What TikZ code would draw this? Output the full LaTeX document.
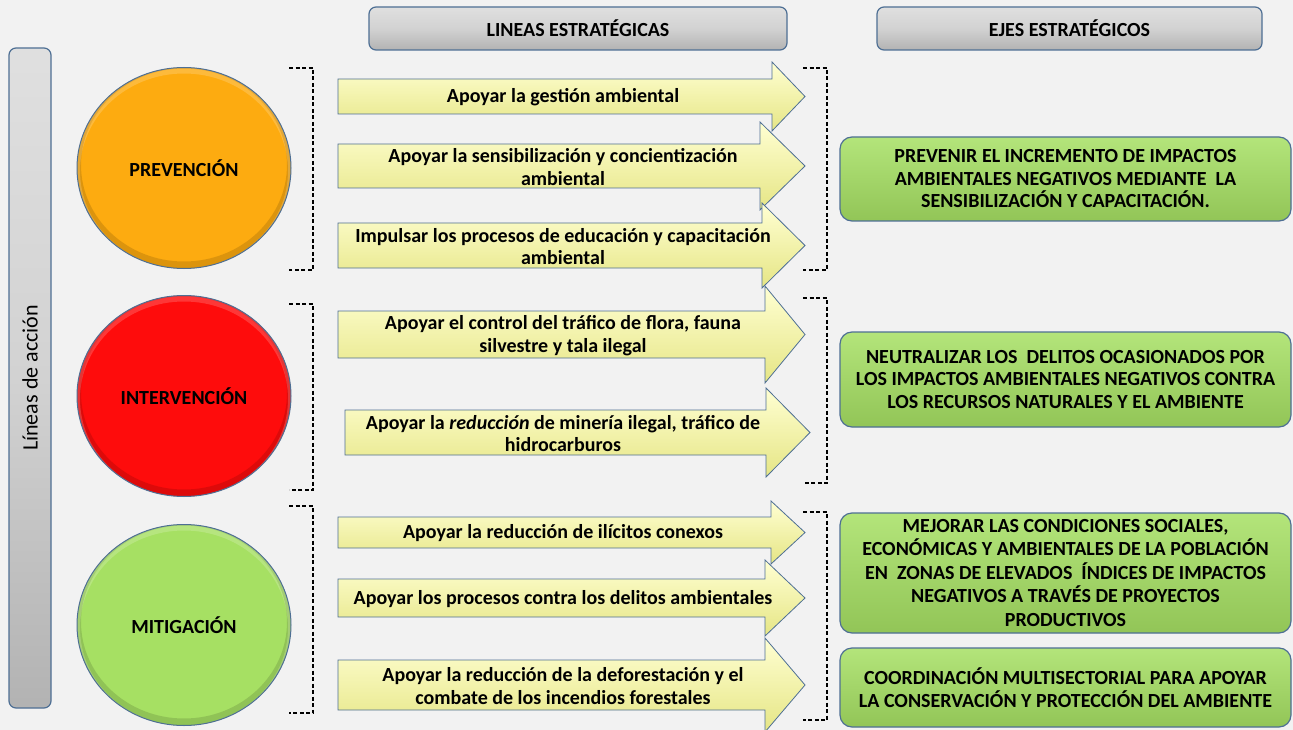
\documentclass[tikz,border=0pt]{standalone}
\usepackage{fontspec}
\setmainfont{Carlito}
\usetikzlibrary{positioning, shapes.geometric}
\definecolor{fondo}{HTML}{F2F2F2}
\definecolor{borde}{HTML}{4E6F94}
\definecolor{naranja}{HTML}{FDAB10}
\definecolor{rojo}{HTML}{FE0C0C}
\definecolor{verde}{HTML}{A6E063}
\definecolor{amarillo}{HTML}{FFFFA6}
\definecolor{gris}{HTML}{D2D2D2}
\tikzset{
  txt/.style={font=\bfseries\fontsize{20}{22.5}\selectfont, align=center, text=black},
  circulo/.style={ellipse, draw=borde, line width=1pt, minimum width=214pt, minimum height=201pt, inner sep=0pt, txt,
    path picture={
      \draw[line width=8pt, black, opacity=.13] ([yshift=3pt]path picture bounding box.center) ellipse [x radius=107pt, y radius=100.5pt];
      \draw[line width=6pt, white, opacity=.18] ([yshift=-3pt]path picture bounding box.center) ellipse [x radius=107pt, y radius=100.5pt];}},
  eje/.style={rectangle, rounded corners=12pt, draw=borde, line width=1.2pt, top color=verde!85!white, middle color=verde, bottom color=verde!88!black, minimum width=451pt, inner sep=0pt, txt},
  encabezado/.style={rectangle, rounded corners=7pt, draw=borde, line width=1.2pt, top color=gris!70!white, bottom color=gris!85!black, middle color=gris, minimum height=43pt, inner sep=0pt, font=\bfseries\fontsize{20}{22}\selectfont},
  llave/.style={line width=1.3pt, dash pattern=on 4pt off 2.5pt},
  flecha/.style={draw=borde, line width=0.8pt, top color=amarillo!50!white, middle color=amarillo, bottom color=amarillo!80!olive}
}
% #1 nombre, #2 cola, #3 base de punta, #4 punta, #5 arriba, #6 abajo, #7 ala, #8 texto
\newcommand{\linea}[8]{%
  \draw[flecha] (#2,#5) -- (#3,#5) -- (#3,#5-#7) -- (#4,{(#5+#6)/2}) -- (#3,#6+#7) -- (#3,#6) -- (#2,#6) -- cycle;
  \node[txt] (#1) at (563,{(#5+#6)/2+1}) {#8};
}

\begin{document}
\begin{tikzpicture}[x=1pt, y=-1pt]
  \useasboundingbox[fill=fondo] (0,0) rectangle (1293,730);

  % encabezados
  \node[encabezado, minimum width=418pt] (lineas) at (578,28.5) {LINEAS ESTRATÉGICAS};
  \node[encabezado, minimum width=385pt] (ejes) at (1069.5,28.5) {EJES ESTRATÉGICOS};
  \node[encabezado, minimum width=660pt, minimum height=42pt, rotate=90, font=\fontsize{22}{25}\selectfont] (accion) at (30,378) {Líneas de acción};

  % lineas de accion
  \node[circulo, fill=naranja] (prev) at (184,168) {PREVENCIÓN};
  \node[circulo, fill=rojo] (interv) at (184,396) {INTERVENCIÓN};
  \node[circulo, fill=verde] (mitig) at (184,625) {MITIGACIÓN};

  \foreach \a/\b in {68/270, 304/490, 506/713}
    \draw[llave] (289,\a) -- (313,\a) -- (313,\b) -- (289,\b);
  \foreach \a/\b in {68/270, 298/483, 512/720}
    \draw[llave] (803,\a) -- (827,\a) -- (827,\b) -- (803,\b);

  % lineas estrategicas
  \linea{l1}{338}{772}{805}{79}{114}{17}{Apoyar la gestión ambiental}
  \linea{l2}{338}{760}{805}{144}{188}{22}{Apoyar la sensibilización y concientización\\ambiental}
  \linea{l3}{338}{762}{805}{223}{268}{20}{Impulsar los procesos de educación y capacitación\\ambiental}
  \linea{l4}{338}{765}{805}{311}{358}{25}{Apoyar el control del tráfico de flora, fauna\\silvestre y tala ilegal}
  \linea{l5}{345}{766}{810}{410}{455}{22}{Apoyar la \textit{reducción} de minería ilegal, tráfico de\\hidrocarburos}
  \linea{l6}{338}{771}{805}{517}{548}{16}{Apoyar la reducción de ilícitos conexos}
  \linea{l7}{338}{765}{805}{579}{617}{19}{Apoyar los procesos contra los delitos ambientales}
  \linea{l8}{338}{765}{805}{660}{710}{22}{Apoyar la reducción de la deforestación y el\\combate de los incendios forestales}

  % ejes estrategicos
  \node[eje, minimum height=84pt] (e1) at (1065.5,179) {PREVENIR EL INCREMENTO DE IMPACTOS\\AMBIENTALES NEGATIVOS MEDIANTE~~LA\\SENSIBILIZACIÓN Y CAPACITACIÓN.};
  \node[eje, minimum height=95pt] (e2) at (1065.5,379.5) {NEUTRALIZAR LOS~~DELITOS OCASIONADOS POR\\LOS IMPACTOS AMBIENTALES NEGATIVOS CONTRA\\LOS RECURSOS NATURALES Y EL AMBIENTE};
  \node[eje, minimum height=120pt, font=\bfseries\fontsize{20}{23.5}\selectfont] (e3) at (1065.5,573) {MEJORAR LAS CONDICIONES SOCIALES,\\ECONÓMICAS Y AMBIENTALES DE LA POBLACIÓN\\EN~~ZONAS DE ELEVADOS~~ÍNDICES DE IMPACTOS\\NEGATIVOS A TRAVÉS DE PROYECTOS\\PRODUCTIVOS};
  \node[eje, minimum height=79pt] (e4) at (1065.5,687.5) {COORDINACIÓN MULTISECTORIAL PARA APOYAR\\LA CONSERVACIÓN Y PROTECCIÓN DEL AMBIENTE};
\end{tikzpicture}
\end{document}
